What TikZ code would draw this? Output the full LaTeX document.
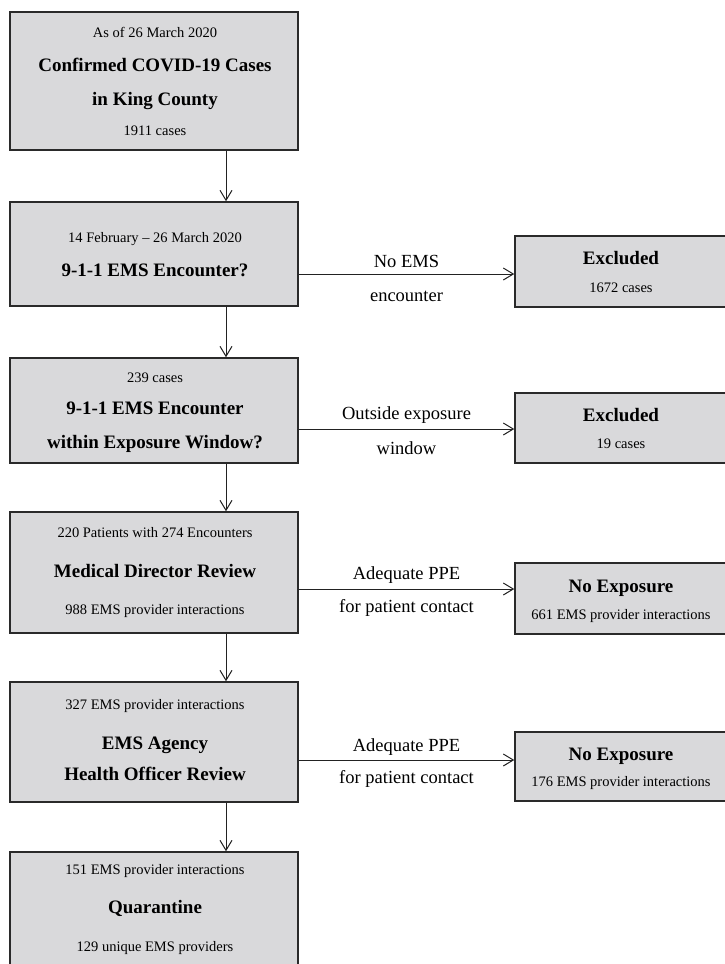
\documentclass[tikz,border=0pt]{standalone}
\usepackage{fontspec}
\setmainfont{Liberation Serif}
\usetikzlibrary{arrows.meta}
\definecolor{boxfill}{HTML}{D9D9DB}
\definecolor{boxline}{HTML}{2A2A2A}
\definecolor{arrline}{HTML}{222222}
\tikzset{
  box/.style={draw=boxline, fill=boxfill, line width=1.5pt, rectangle, inner sep=0pt},
  small/.style={font=\fontsize{14.5}{17}\selectfont, text height=13pt, text depth=3.5pt, inner sep=0pt, anchor=center},
  big/.style={font=\fontsize{19}{22}\selectfont\bfseries, text height=17pt, text depth=4.5pt, inner sep=0pt, anchor=center},
  lbl/.style={font=\fontsize{18.5}{22}\selectfont, text height=16.5pt, text depth=4.4pt, inner sep=0pt, anchor=center},
  arr/.style={draw=arrline, line width=1pt, -{Straight Barb[length=10pt,width=12pt,line width=1pt]}},
}
\begin{document}
\begin{tikzpicture}[x=1pt,y=-1pt]
\useasboundingbox (0,0) rectangle (724,964);
\fill[white] (0,0) rectangle (724,964);
% left boxes
\node[box, minimum width=288pt, minimum height=138pt] (b1) at (154,81) {};
\node[box, minimum width=288pt, minimum height=104pt] (b2) at (154,254) {};
\node[box, minimum width=288pt, minimum height=105pt] (b3) at (154,410.5) {};
\node[box, minimum width=288pt, minimum height=121pt] (b4) at (154,572.5) {};
\node[box, minimum width=288pt, minimum height=120pt] (b5) at (154,742) {};
\node[box, minimum width=288pt, minimum height=140pt] (b6) at (154,922) {};
% right boxes (right edge lies beyond the picture)
\node[box, minimum width=225pt, minimum height=71pt] (e1) at (627.5,271.5) {};
\node[box, minimum width=225pt, minimum height=70pt] (e2) at (627.5,428) {};
\node[box, minimum width=225pt, minimum height=71pt] (n1) at (627.5,598.5) {};
\node[box, minimum width=225pt, minimum height=69pt] (n2) at (627.5,766.5) {};
% texts box 1
\node[small] (t1a) at (155,33) {As of 26 March 2020};
\node[big] (t1b) at (155,65.5) {Confirmed COVID-19 Cases};
\node[big] (t1c) at (155,99) {in King County};
\node[small] (t1d) at (155,131) {1911 cases};
% box 2
\node[small] (t2a) at (155,238) {14 February -- 26 March 2020};
\node[big] (t2b) at (155,270) {9-1-1 EMS Encounter?};
% box 3
\node[small] (t3a) at (155,378) {239 cases};
\node[big] (t3b) at (155,408.5) {9-1-1 EMS Encounter};
\node[big] (t3c) at (155,442) {within Exposure Window?};
% box 4
\node[small] (t4a) at (155,533) {220 Patients with 274 Encounters};
\node[big] (t4b) at (155,571) {Medical Director Review};
\node[small] (t4c) at (155,610) {988 EMS provider interactions};
% box 5
\node[small] (t5a) at (155,705) {327 EMS provider interactions};
\node[big] (t5b) at (155,743) {EMS Agency};
\node[big] (t5c) at (155,774) {Health Officer Review};
% box 6
\node[small] (t6a) at (155,870) {151 EMS provider interactions};
\node[big] (t6b) at (155,907) {Quarantine};
\node[small] (t6c) at (155,947) {129 unique EMS providers};
% right texts
\node[big] (te1a) at (621,258) {Excluded};
\node[small] (te1b) at (621,288) {1672 cases};
\node[big] (te2a) at (621,415) {Excluded};
\node[small] (te2b) at (621,444) {19 cases};
\node[big] (tn1a) at (621,586) {No Exposure};
\node[small] (tn1b) at (621,615) {661 EMS provider interactions};
\node[big] (tn2a) at (621,754) {No Exposure};
\node[small] (tn2b) at (621,782) {176 EMS provider interactions};
% vertical connectors
\draw[arr] ([xshift=72pt]b1.south) -- ([xshift=72pt]b2.north);
\draw[arr] ([xshift=72pt]b2.south) -- ([xshift=72pt]b3.north);
\draw[arr] ([xshift=72pt]b3.south) -- ([xshift=72pt]b4.north);
\draw[arr] ([xshift=72pt]b4.south) -- ([xshift=72pt]b5.north);
\draw[arr] ([xshift=72pt]b5.south) -- ([xshift=72pt]b6.north);
% horizontal connectors
\draw[arr] ([yshift=-2.5pt]e1.west -| b2.east) -- node[lbl, yshift=13pt] (l1a) {No EMS} node[lbl, yshift=-21pt] (l1b) {encounter} ([yshift=-2.5pt]e1.west);
\draw[arr] ([yshift=-1pt]e2.west -| b3.east) -- node[lbl, yshift=16pt] (l2a) {Outside exposure} node[lbl, yshift=-19pt] (l2b) {window} ([yshift=-1pt]e2.west);
\draw[arr] ([yshift=9.5pt]n1.west -| b4.east) -- node[lbl, yshift=15.5pt] (l3a) {Adequate PPE} node[lbl, yshift=-17pt] (l3b) {for patient contact} ([yshift=9.5pt]n1.west);
\draw[arr] ([yshift=6.5pt]n2.west -| b5.east) -- node[lbl, yshift=15pt] (l4a) {Adequate PPE} node[lbl, yshift=-17pt] (l4b) {for patient contact} ([yshift=6.5pt]n2.west);
\end{tikzpicture}
\end{document}
